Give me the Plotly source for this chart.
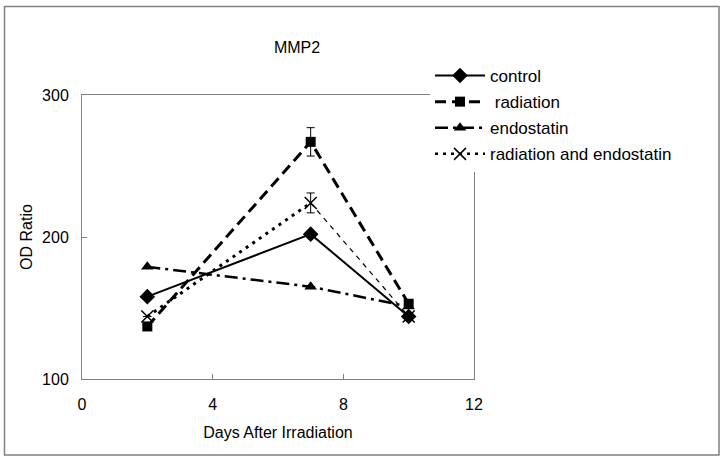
import plotly.graph_objects as go

days = [2, 7, 10]
control = [158, 202, 144]
radiation = [137, 267, 153]
radiation_err = [None, 10, None]
endostatin = [179, 165, 151]
rad_endo = [144, 224, 144]
rad_endo_err = [None, 7, None]

x_ticks = [0, 4, 8, 12]
y_ticks = [100, 200, 300]

W, H = 724, 460
# plot area in screen pixels: x 82..474, y 95..379
L, T = 82, 95
R = W - 474
B = H - 379
pw, ph = W - L - R, H - T - B

def px(xs):
    return (xs - L) / pw

def py(ys):
    return (H - B - ys) / ph

FONT = "Liberation Sans, Arial, sans-serif"

fig = go.Figure()

fig.add_trace(go.Scatter(
    x=days, y=control, name="control", mode="lines+markers",
    line=dict(color="black", width=2),
    marker=dict(symbol="diamond", size=12, color="black"),
    legendgroup="a"))

fig.add_trace(go.Scatter(
    x=days, y=radiation, name=" radiation", mode="lines+markers",
    line=dict(color="black", width=3, dash="11px,6px"),
    marker=dict(symbol="square", size=10, color="black"),
    error_y=dict(type="data", array=radiation_err, visible=True,
                 color="black", thickness=1, width=4),
    legendgroup="b"))

fig.add_trace(go.Scatter(
    x=days, y=endostatin, name="endostatin", mode="lines+markers",
    line=dict(color="black", width=2.5, dash="13px,5px,3px,5px"),
    marker=dict(symbol="triangle-up", size=11, color="black"),
    legendgroup="c"))

# radiation and endostatin: thin dashed segment (day 7 -> 10)
fig.add_trace(go.Scatter(
    x=days[1:], y=rad_endo[1:], mode="lines", showlegend=False,
    line=dict(color="black", width=1.2, dash="5px,5px"),
    legendgroup="d", hoverinfo="skip"))

# radiation and endostatin: thick dotted segment (day 2 -> 7)
fig.add_trace(go.Scatter(
    x=days[:2], y=rad_endo[:2], mode="lines", showlegend=False,
    line=dict(color="black", width=3, dash="3px,5px"),
    legendgroup="d", hoverinfo="skip"))

# radiation and endostatin: markers with error bar
fig.add_trace(go.Scatter(
    x=days, y=rad_endo, name="radiation and endostatin", mode="markers",
    marker=dict(symbol="x-thin-open", size=12, color="black",
                line=dict(color="black", width=1.5)),
    error_y=dict(type="data", array=rad_endo_err, visible=True,
                 color="black", thickness=1, width=4),
    legendgroup="d", showlegend=False))

# legend entry for radiation and endostatin
fig.add_trace(go.Scatter(
    x=[None], y=[None], name="radiation and endostatin", mode="lines+markers",
    line=dict(color="black", width=2.5, dash="3px,5px"),
    marker=dict(symbol="x-thin-open", size=12, color="black",
                line=dict(color="black", width=1.5)),
    legendgroup="d"))

axis_common = dict(
    showgrid=False, zeroline=False, showline=True, linecolor="#808080",
    linewidth=1, mirror=True, ticks="inside", ticklen=5, tickcolor="#808080",
    tickfont=dict(family=FONT, size=16, color="black"),
)

fig.update_xaxes(range=[0, 12], tickvals=x_ticks, ticktext=[str(v) for v in x_ticks],
                 ticklabelstandoff=11,
                 title=dict(text="Days After Irradiation",
                            font=dict(family=FONT, size=16, color="black"),
                            standoff=14),
                 **axis_common)
fig.update_yaxes(range=[100, 300], tickvals=y_ticks, ticktext=[str(v) for v in y_ticks],
                 ticklabelstandoff=9,
                 title=dict(text="OD Ratio",
                            font=dict(family=FONT, size=16, color="black"),
                            standoff=5),
                 **axis_common)

border = dict(type="rect", xref="paper", yref="paper",
              x0=px(4.5), x1=px(719), y0=py(455), y1=py(6.5),
              line=dict(color="#808080", width=1.5), layer="below")

fig.update_layout(
    width=W, height=H,
    margin=dict(l=L, r=R, t=T, b=B, autoexpand=False),
    paper_bgcolor="white", plot_bgcolor="white",
    font=dict(family=FONT, color="black"),
    title=dict(text="MMP2", xref="container", x=297 / W, xanchor="center",
               yref="container", y=1 - 47 / H, yanchor="middle",
               font=dict(family=FONT, size=16, color="black")),
    showlegend=True,
    legend=dict(x=px(430), y=py(58), xanchor="left", yanchor="top",
                bgcolor="white", borderwidth=0, tracegroupgap=1, itemwidth=50,
                font=dict(family=FONT, size=17, color="black")),
    shapes=[border],
)

fig.write_html("out.html", config={"displayModeBar": False},
               post_script="document.body.style.margin='0';document.body.style.overflow='hidden';")
